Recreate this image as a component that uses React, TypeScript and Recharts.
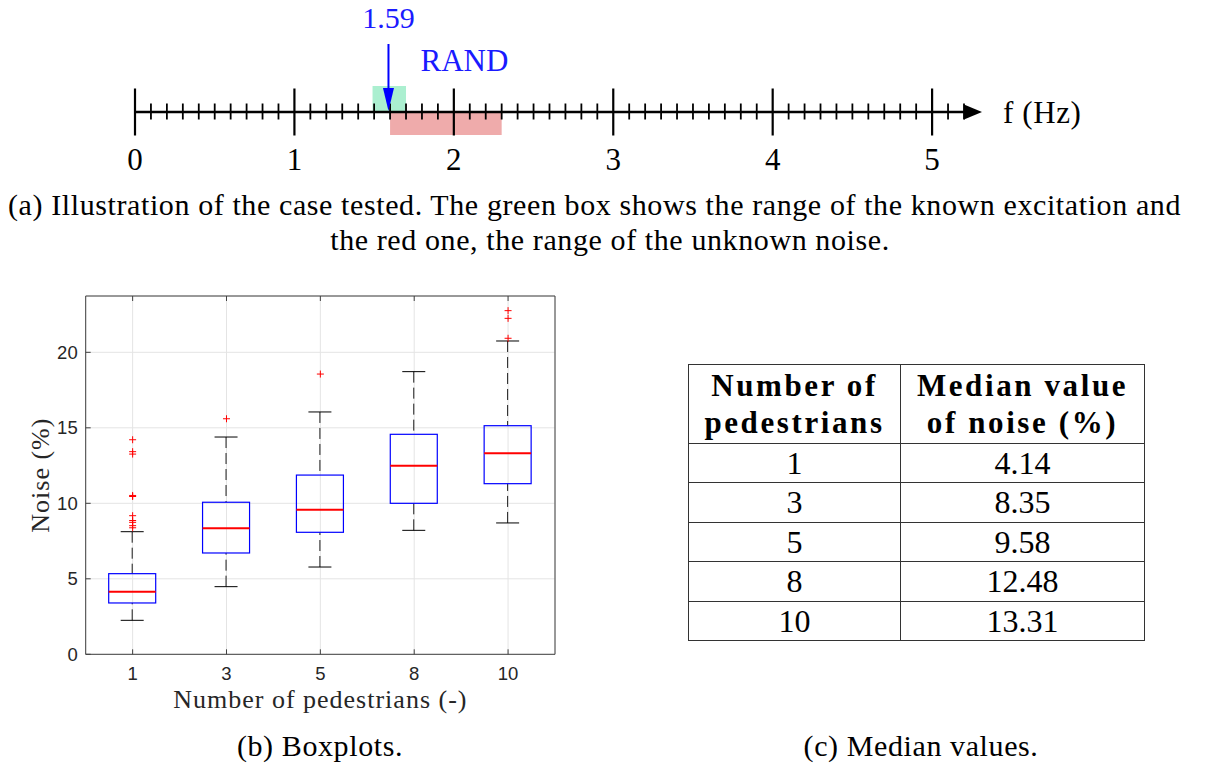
import React from "react";
import {
  Bar,
  CartesianGrid,
  ComposedChart,
  Label,
  ReferenceArea,
  ReferenceDot,
  ReferenceLine,
  Scatter,
  ScatterChart,
  XAxis,
  YAxis,
} from "recharts";

// (a) frequency axis
const freqTicks = Array.from({ length: 53 }, (_, i) => i / 10); // 0 .. 5.2 Hz
const excitationRange = [1.49, 1.7];
const noiseRange = [1.6, 2.3];
const excitationFreq = 1.59;

// (b) boxplots
const groups = ["1", "3", "5", "8", "10"];
const medians = [4.14, 8.35, 9.58, 12.48, 13.31];
const q1 = [3.4, 6.71, 8.08, 10.0, 11.3];
const q3 = [5.34, 10.07, 11.87, 14.57, 15.14];
const whiskerLow = [2.25, 4.48, 5.78, 8.21, 8.7];
const whiskerHigh = [8.12, 14.39, 16.05, 18.72, 20.75];
const outlierGroups = ["1", "1", "1", "1", "1", "1", "1", "1", "1", "1", "3", "5", "10", "10", "10"];
const outlierValues = [14.21, 13.42, 13.26, 10.52, 10.45, 9.18, 8.86, 8.74, 8.52, 8.38, 15.6, 18.56, 22.76, 22.25, 20.93];
const yTicks = [0, 5, 10, 15, 20];

const SERIF = "'Liberation Serif', 'DejaVu Serif', serif";
const SANS = "'Liberation Sans', Arial, sans-serif";

const tickData = freqTicks.map((f) => ({ f, y: 0 }));
const boxData = groups.map((cat, i) => ({
  cat,
  lo: whiskerLow[i],
  q1: q1[i],
  med: medians[i],
  q3: q3[i],
  hi: whiskerHigh[i],
}));
const outlierData = outlierGroups.map((cat, i) => ({ cat, v: outlierValues[i] }));

const FreqTick = (props: any) => {
  const { cx, cy, payload } = props;
  const major = Math.abs(payload.f - Math.round(payload.f)) < 1e-6;
  return (
    <g>
      <line
        x1={cx}
        x2={cx}
        y1={cy - (major ? 23.5 : 8.5)}
        y2={cy + (major ? 23.5 : 7.5)}
        stroke="#000"
        strokeWidth={major ? 2.2 : 1.8}
      />
      {major && (
        <text x={cx} y={cy + 47} textAnchor="middle" dominantBaseline="central" fontFamily={SERIF} fontSize={31} fill="#000">
          {Math.round(payload.f)}
        </text>
      )}
    </g>
  );
};

const AxisArrow = (props: any) => {
  const { cx, cy } = props;
  return (
    <g>
      <polygon points={`${cx},${cy} ${cx - 18},${cy - 7.5} ${cx - 18},${cy + 7.5}`} fill="#000" />
      <text x={cx + 21} y={cy} dominantBaseline="central" fontFamily={SERIF} fontSize={31} letterSpacing={0.6} fill="#000">
        f (Hz)
      </text>
    </g>
  );
};

const ExcitationArrow = (props: any) => {
  const { cx, cy } = props;
  return (
    <g>
      <line x1={cx} x2={cx} y1={cy - 68} y2={cy - 18} stroke="#0000ff" strokeWidth={2} />
      <polygon points={`${cx},${cy - 1} ${cx - 5.5},${cy - 24} ${cx + 5.5},${cy - 24}`} fill="#0000ff" />
      <text x={cx} y={cy - 95} textAnchor="middle" dominantBaseline="central" fontFamily={SERIF} fontSize={30} fill="#1a1aff">
        {excitationFreq}
      </text>
      <text x={cx + 32} y={cy - 52} dominantBaseline="central" fontFamily={SERIF} fontSize={31} fill="#1a1aff">
        RAND
      </text>
    </g>
  );
};

const BoxShape = (props: any) => {
  const { x, y, width, height, payload } = props;
  const { lo, hi } = payload;
  const py = (v: number) => y + (height * (hi - v)) / (hi - lo);
  const cx = x + width / 2;
  const cap = 11.5;
  return (
    <g>
      <line x1={cx} x2={cx} y1={py(hi)} y2={py(payload.q3)} stroke="#1a1a1a" strokeWidth={1} strokeDasharray="11 5" />
      <line x1={cx} x2={cx} y1={py(lo)} y2={py(payload.q1)} stroke="#1a1a1a" strokeWidth={1} strokeDasharray="11 5" />
      <line x1={cx - cap} x2={cx + cap} y1={py(hi)} y2={py(hi)} stroke="#000" strokeWidth={1} />
      <line x1={cx - cap} x2={cx + cap} y1={py(lo)} y2={py(lo)} stroke="#000" strokeWidth={1} />
      <rect
        x={x}
        y={py(payload.q3)}
        width={width}
        height={py(payload.q1) - py(payload.q3)}
        fill="none"
        stroke="#0000ff"
        strokeWidth={1.2}
      />
      <line x1={x} x2={x + width} y1={py(payload.med)} y2={py(payload.med)} stroke="#ff0000" strokeWidth={2} />
    </g>
  );
};

const Plus = (props: any) => {
  const { cx, cy } = props;
  return (
    <g stroke="#ff0000" strokeWidth={1}>
      <line x1={cx - 3.5} x2={cx + 3.5} y1={cy} y2={cy} />
      <line x1={cx} x2={cx} y1={cy - 3.5} y2={cy + 3.5} />
    </g>
  );
};

const BottomTick = (props: any) => {
  const { x, y, payload } = props;
  return (
    <g>
      <line x1={x} x2={x} y1={y} y2={y - 5} stroke="#404040" />
      <text x={x} y={y + 19} textAnchor="middle" dominantBaseline="central" fontFamily={SANS} fontSize={18.5} fill="#262626">
        {payload.value}
      </text>
    </g>
  );
};

const TopTick = (props: any) => <line x1={props.x} x2={props.x} y1={props.y} y2={props.y + 5} stroke="#404040" />;

const LeftTick = (props: any) => {
  const { x, y, payload } = props;
  return (
    <g>
      <line x1={x} x2={x + 5} y1={y} y2={y} stroke="#404040" />
      <text x={x - 8} y={y} textAnchor="end" dominantBaseline="central" fontFamily={SANS} fontSize={18.5} fill="#262626">
        {payload.value}
      </text>
    </g>
  );
};

const RightTick = (props: any) => <line x1={props.x} x2={props.x - 5} y1={props.y} y2={props.y} stroke="#404040" />;

const YLabel = (props: any) => {
  const vb = props.viewBox || { x: 84.7, y: 16, width: 1, height: 358 };
  const x = vb.x + vb.width - 45;
  const y = vb.y + vb.height / 2;
  return (
    <text x={x} y={y} transform={`rotate(-90 ${x} ${y})`} textAnchor="middle" dominantBaseline="central" fontFamily={SERIF} fontSize={26} letterSpacing={1} fill="#262626">
      Noise (%)
    </text>
  );
};

const XLabel = (props: any) => {
  const vb = props.viewBox || { x: 85.7, y: 374.3, width: 469.3, height: 1 };
  return (
    <text x={vb.x + vb.width / 2} y={vb.y + 45} textAnchor="middle" dominantBaseline="central" fontFamily={SERIF} fontSize={26} letterSpacing={1} fill="#262626">
      Number of pedestrians (-)
    </text>
  );
};

const cell: React.CSSProperties = {
  border: "1.3px solid #333",
  textAlign: "center",
  padding: 0,
  height: 38.5,
  fontSize: 32,
  lineHeight: "32px",
};

const head: React.CSSProperties = {
  ...cell,
  height: 77.5,
  fontWeight: "bold",
  letterSpacing: 2.6,
  fontSize: 31,
  lineHeight: "37px",
};

const caption: React.CSSProperties = {
  position: "absolute",
  fontSize: 30,
  letterSpacing: 0.6,
  whiteSpace: "nowrap",
  lineHeight: "34px",
};

export default function App() {
  return (
    <div style={{ position: "absolute", left: 0, top: 0, width: 1225, height: 769, background: "#fff", fontFamily: SERIF }}>
      <div style={{ position: "absolute", left: 0, top: 0 }}>
        <ScatterChart width={1225} height={190} margin={{ top: 52, right: 243, bottom: 18, left: 135 }}>
          <XAxis type="number" dataKey="f" domain={[0, 5.313]} hide />
          <YAxis type="number" dataKey="y" domain={[-60, 60]} hide />
          <ReferenceArea x1={excitationRange[0]} x2={excitationRange[1]} y1={0} y2={26} fill="#abefd0" fillOpacity={1} stroke="none" />
          <ReferenceArea x1={noiseRange[0]} x2={noiseRange[1]} y1={-23} y2={0} fill="#efabab" fillOpacity={1} stroke="none" />
          <ReferenceLine segment={[{ x: 0, y: 0 }, { x: 5.22, y: 0 }]} stroke="#000" strokeWidth={2.5} />
          <Scatter data={tickData} shape={FreqTick} isAnimationActive={false} />
          <ReferenceDot x={5.313} y={0} shape={AxisArrow} />
          <Scatter data={[{ f: excitationFreq, y: 0 }]} shape={ExcitationArrow} isAnimationActive={false} />
        </ScatterChart>
      </div>

      <div style={{ ...caption, left: 8, top: 188 }}>
        (a) Illustration of the case tested. The green box shows the range of the known excitation and
      </div>
      <div style={{ ...caption, left: 0, width: 1220, top: 223, textAlign: "center" }}>
        the red one, the range of the unknown noise.
      </div>

      <div style={{ position: "absolute", left: 0, top: 280 }}>
        <ComposedChart width={600} height={450} data={boxData} margin={{ top: 15, right: 44, bottom: 74.7, left: 84.7 }}>
          <CartesianGrid stroke="#e4e4e4" strokeWidth={1} />
          <XAxis
            dataKey="cat"
            type="category"
            allowDuplicatedCategory={false}
            interval={0}
            height={1}
            tickSize={0}
            tickMargin={0}
            tickLine={false}
            axisLine={{ stroke: "#404040" }}
            tick={BottomTick}
          >
            <Label content={XLabel} />
          </XAxis>
          <XAxis
            xAxisId="top"
            orientation="top"
            dataKey="cat"
            type="category"
            allowDuplicatedCategory={false}
            interval={0}
            height={1}
            tickSize={0}
            tickMargin={0}
            tickLine={false}
            axisLine={{ stroke: "#404040" }}
            tick={TopTick}
          />
          <YAxis
            type="number"
            domain={[0, 23.73]}
            ticks={yTicks}
            width={1}
            tickSize={0}
            tickMargin={0}
            tickLine={false}
            axisLine={{ stroke: "#404040" }}
            tick={LeftTick}
          >
            <Label content={YLabel} />
          </YAxis>
          <YAxis
            yAxisId="right"
            orientation="right"
            type="number"
            domain={[0, 23.73]}
            ticks={yTicks}
            width={1}
            tickSize={0}
            tickMargin={0}
            tickLine={false}
            axisLine={{ stroke: "#404040" }}
            tick={RightTick}
          />
          <Bar dataKey={(d: any) => [d.lo, d.hi]} barSize={47} shape={BoxShape} isAnimationActive={false} />
          <Scatter data={outlierData} dataKey="v" shape={Plus} isAnimationActive={false} />
        </ComposedChart>
      </div>

      <table
        style={{
          position: "absolute",
          left: 688,
          top: 364,
          borderCollapse: "collapse",
          tableLayout: "fixed",
          width: 456,
        }}
      >
        <colgroup>
          <col style={{ width: 212 }} />
          <col style={{ width: 244 }} />
        </colgroup>
        <thead>
          <tr>
            <th style={head}>
              Number of
              <br />
              pedestrians
            </th>
            <th style={head}>
              Median value
              <br />
              of noise (%)
            </th>
          </tr>
        </thead>
        <tbody>
          {groups.map((g, i) => (
            <tr key={g}>
              <td style={cell}>{g}</td>
              <td style={cell}>{medians[i].toFixed(2)}</td>
            </tr>
          ))}
        </tbody>
      </table>

      <div style={{ ...caption, left: 120, width: 400, top: 729, textAlign: "center" }}>(b) Boxplots.</div>
      <div style={{ ...caption, left: 721, width: 400, top: 729, textAlign: "center" }}>(c) Median values.</div>
    </div>
  );
}
